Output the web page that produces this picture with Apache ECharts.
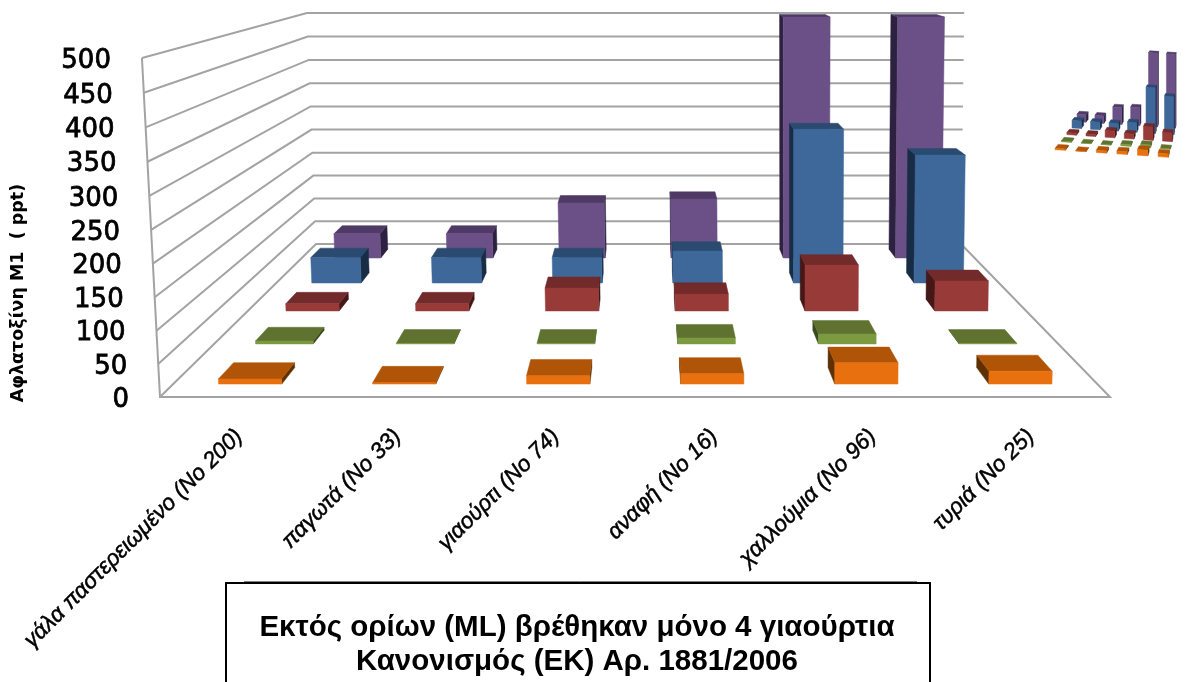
<!DOCTYPE html>
<html>
<head>
<meta charset="utf-8">
<style>html,body{margin:0;padding:0;background:#fff}#chart{width:1199px;height:682px}</style>
<script src="https://cdn.jsdelivr.net/npm/echarts@6/dist/echarts.min.js"></script>
</head>
<body>
<div id="chart"></div>
<script>
// Aflatoxin M1 survey: 3D-look column chart with a small overview on the right.
const categories = ['γάλα παστερειωμένο (Νο 200)', 'παγωτά (Νο 33)', 'γιαούρτι (Νο 74)', 'αναφή (Νο 16)', 'χαλλούμια (Νο 96)', 'τυριά (Νο 25)'];
const yTicks = [0, 50, 100, 150, 200, 250, 300, 350, 400, 450, 500];
const purpleValues = [51, 51, 116, 124, 500, 500];
const blueValues = [50, 50, 50, 63, 300, 250];
const redValues = [13, 13, 42, 31, 84, 55];
const greenValues = [5, 1, 1, 10, 17, 1];
const orangeValues = [8, 2, 13, 16, 33, 20];
const yAxisTitle = 'Αφλατοξίνη Μ1  ( ppt)';
const noteLines = ['Εκτός ορίων (ML) βρέθηκαν μόνο 4 γιαούρτια', 'Κανονισμός (ΕΚ) Αρ. 1881/2006'];

// Rows run from the back of the floor to the front.
const rows = [
  {name: 'purple', values: purpleValues, depth: 0.871, front: '#6a5086', top: '#4f3a66', side: '#2c2140'},
  {name: 'blue', values: blueValues, depth: 0.665, front: '#3d6899', top: '#2a4a70', side: '#182c46'},
  {name: 'red', values: redValues, depth: 0.466, front: '#983a38', top: '#732a2a', side: '#451717'},
  {name: 'green', values: greenValues, depth: 0.265, front: '#7c9a40', top: '#5f7230', side: '#3a4a1c'},
  {name: 'orange', values: orangeValues, depth: 0.059, front: '#e8700e', top: '#b05508', side: '#5e3003'}
];

// Perspective applied to the flat grid coordinates (u across, v up, d into the floor).
const mainView = {
  x0: 160, y0: 397, ux: 950, vx: -22, dx: 305.5, uy: 0, vy: -340.6, dy: -37.6, wv: -0.0278, wd: 0.473,
  barRatio: 0.41, barDepth: 0.08
};
const overview = {
  x0: 1048, y0: 151.7, ux: 125, vx: 0, dx: 232, uy: 8.4, vy: -86, dy: -11.85, wv: 0, wd: 0.19,
  barRatio: 0.5, barDepth: 0.1
};

function project(view, u, v, d) {
  const w = 1 + view.wv * v + view.wd * d;
  return [
    (view.x0 + view.ux * u + view.vx * v + view.dx * d) / w,
    (view.y0 + view.uy * u + view.vy * v + view.dy * d) / w
  ];
}

// Grid pixel -> normalised position on the chart's front plane.
function toPlane(params, point) {
  const cs = params.coordSys;
  return [(point[0] - cs.x) / cs.width, (cs.y + cs.height - point[1]) / cs.height];
}

function quad(points, fill) {
  return {type: 'polygon', shape: {points}, style: {fill, stroke: fill, lineWidth: 0.5}, silent: true};
}

function barSeries(row, view) {
  return {
    type: 'custom',
    name: row.name,
    coordinateSystem: 'cartesian2d',
    clip: false,
    silent: true,
    data: row.values.map((v, i) => [i, v]),
    renderItem(params, api) {
      const base = toPlane(params, api.coord([api.value(0), 0]));
      const head = toPlane(params, api.coord([api.value(0), api.value(1)]));
      const half = api.size([1, 0])[0] * view.barRatio / 2 / params.coordSys.width;
      const l = base[0] - half, r = base[0] + half;
      const d0 = row.depth, d1 = row.depth + view.barDepth, h = head[1];
      const p = (u, v, d) => project(view, u, v, d);
      const faces = [];
      if (p(l, 0, d1)[0] < p(l, 0, d0)[0]) {
        faces.push(quad([p(l, 0, d0), p(l, 0, d1), p(l, h, d1), p(l, h, d0)], row.side));
      }
      if (p(r, 0, d1)[0] > p(r, 0, d0)[0]) {
        faces.push(quad([p(r, 0, d0), p(r, 0, d1), p(r, h, d1), p(r, h, d0)], row.side));
      }
      faces.push(quad([p(l, h, d0), p(r, h, d0), p(r, h, d1), p(l, h, d1)], row.top));
      faces.push(quad([p(l, 0, d0), p(r, 0, d0), p(r, h, d0), p(l, h, d0)], row.front));
      return {type: 'group', children: faces};
    }
  };
}

const wallStroke = {stroke: '#a3a3a3', fill: null, lineWidth: 2};

// Wall and floor lines, one per axis tick.
const wallSeries = {
  type: 'custom',
  name: 'walls',
  coordinateSystem: 'cartesian2d',
  clip: false,
  silent: true,
  data: yTicks.map(t => [0, t]),
  renderItem(params, api) {
    const v = toPlane(params, api.coord([0, api.value(1)]))[1];
    const p = (u, w, d) => project(mainView, u, w, d);
    const children = [{
      type: 'polyline',
      shape: {points: [p(0, v, 0), p(0, v, 1), p(1, v, 1)]},
      style: wallStroke, silent: true
    }];
    if (api.value(1) === 0) {
      children.push({type: 'polyline', shape: {points: [p(0, 1, 0), p(0, 0, 0), p(1, 0, 0), p(1, 0, 1)]}, style: wallStroke, silent: true});
    }
    return {type: 'group', children};
  }
};

// Value labels follow the slanted front edge of the left wall.
const tickLabelSeries = {
  type: 'custom',
  name: 'ticks',
  coordinateSystem: 'cartesian2d',
  clip: false,
  silent: true,
  data: yTicks.map(t => [0, t]),
  renderItem(params, api) {
    const v = toPlane(params, api.coord([0, api.value(1)]))[1];
    const pos = project(mainView, 0, v, 0);
    return {
      type: 'text',
      silent: true,
      style: {
        text: String(api.value(1)), x: pos[0] - 31, y: pos[1] + 3,
        align: 'right', verticalAlign: 'middle',
        font: '26px "DejaVu Sans"', fill: '#000', stroke: '#000', lineWidth: 0.8
      }
    };
  }
};

const chart = echarts.init(document.getElementById('chart'), null, {renderer: 'canvas'});
chart.setOption({
  animation: false,
  backgroundColor: '#fff',
  grid: {left: 160, right: 89, top: 56, bottom: 285, containLabel: false},
  xAxis: {
    type: 'category',
    data: categories,
    axisLine: {show: false},
    axisTick: {show: false},
    splitLine: {show: false},
    axisLabel: {
      interval: 0, rotate: 45, margin: 36,
      fontFamily: '"Liberation Sans"', fontStyle: 'italic', fontSize: 22.5, color: '#000',
      textBorderColor: '#000', textBorderWidth: 0.5
    }
  },
  yAxis: {
    type: 'value', min: 0, max: 500, interval: 50,
    axisLine: {show: false}, axisTick: {show: false}, axisLabel: {show: false}, splitLine: {show: false}
  },
  series: [
    wallSeries,
    tickLabelSeries,
    ...rows.map(r => barSeries(r, mainView)),
    ...rows.map(r => barSeries(r, overview))
  ],
  graphic: [
    {
      type: 'text', x: 18, y: 293, rotation: Math.PI / 2, silent: true,
      style: {text: yAxisTitle, align: 'center', verticalAlign: 'middle', font: 'bold 17.5px "DejaVu Sans"', fill: '#000'}
    },
    {type: 'line', silent: true, shape: {x1: 244, y1: 581.5, x2: 917, y2: 581.5}, style: {stroke: '#808080', lineWidth: 1}},
    {type: 'rect', silent: true, shape: {x: 226, y: 583, width: 704, height: 120}, style: {fill: '#fff', stroke: '#000', lineWidth: 2}},
    {
      type: 'text', x: 577, y: 628, silent: true,
      style: {text: noteLines[0], align: 'center', verticalAlign: 'middle', font: 'bold 29.5px "Liberation Sans"', fill: '#000'}
    },
    {
      type: 'text', x: 577, y: 662, silent: true,
      style: {text: noteLines[1], align: 'center', verticalAlign: 'middle', font: 'bold 29.5px "Liberation Sans"', fill: '#000'}
    }
  ]
});
</script>
</body>
</html>
